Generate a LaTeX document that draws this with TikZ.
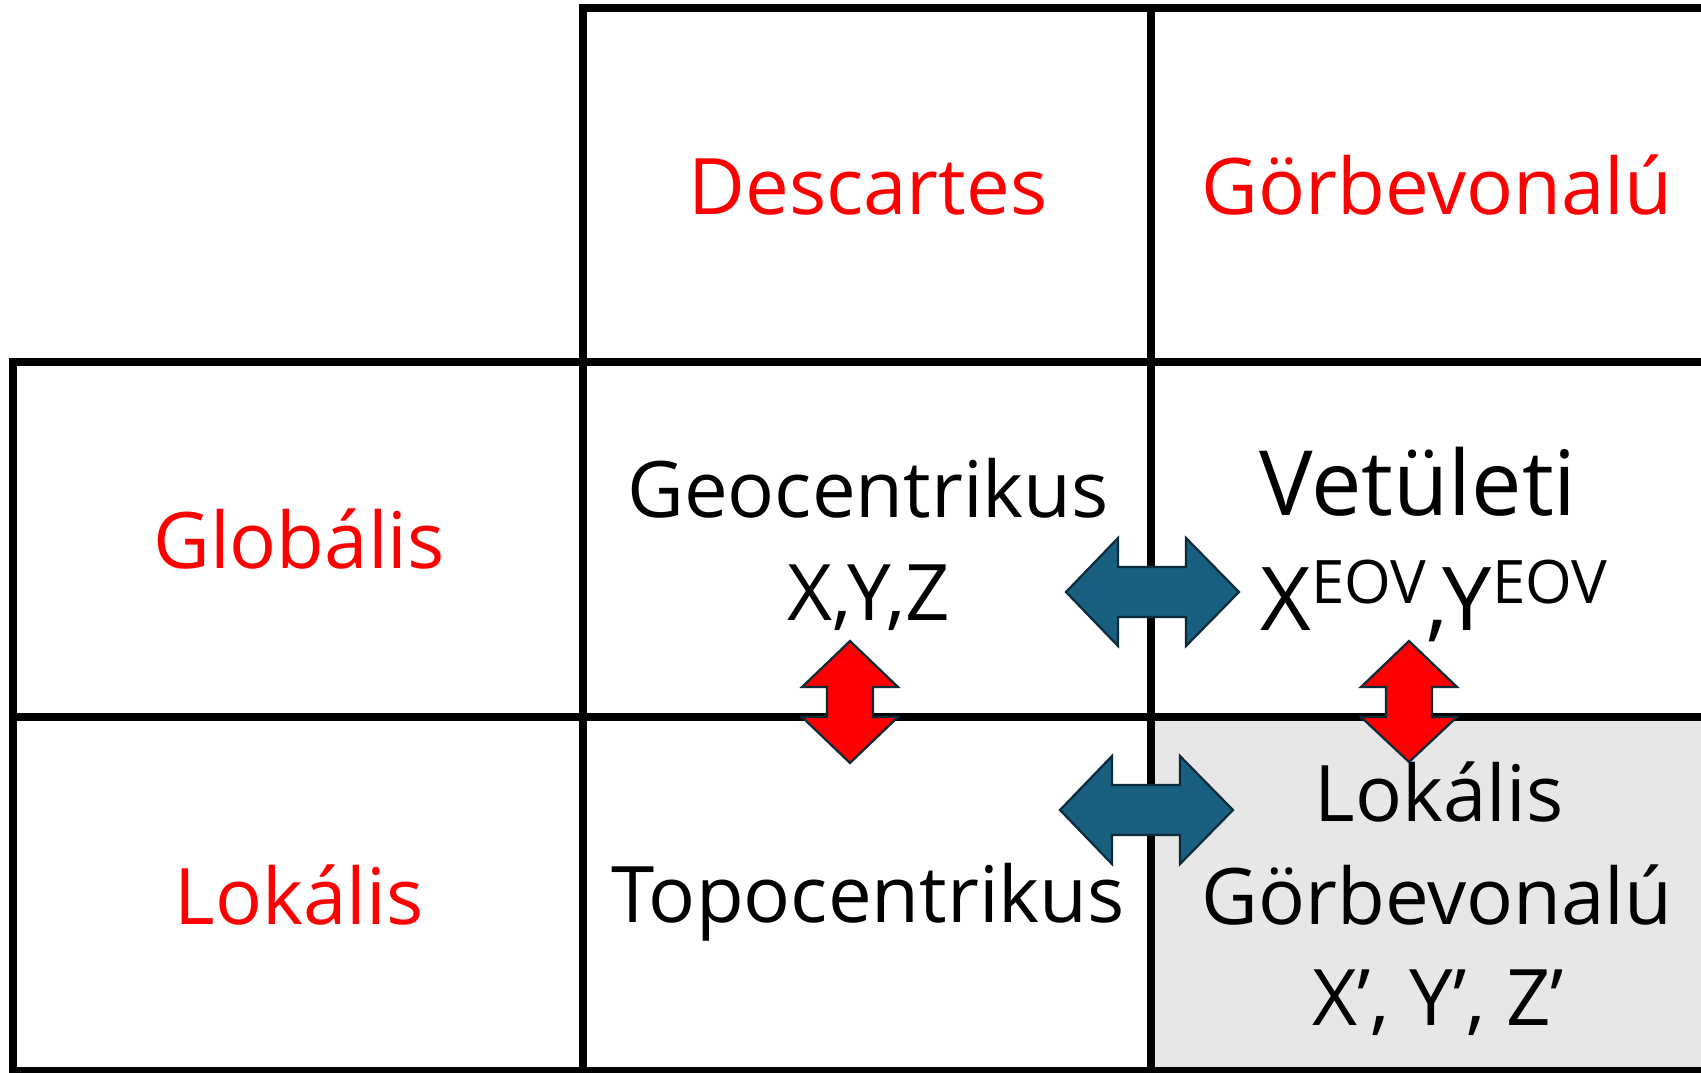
\documentclass[tikz,border=0pt]{standalone}
\usepackage{fontspec}
\setmainfont{Open Sans}
\definecolor{cellgray}{HTML}{E7E7E7}
\definecolor{arrowblue}{HTML}{185F80}
\definecolor{arrowedge}{HTML}{0B2A3A}
\definecolor{hdred}{HTML}{FF0000}
\begin{document}
\begin{tikzpicture}[x=0.5pt,y=-0.5pt,
  grid/.style={line width=4pt,black},
  head/.style={text=hdred,font=\fontsize{39pt}{44pt}\selectfont,anchor=base,inner sep=0pt},
  body/.style={text=black,font=\fontsize{39pt}{44pt}\selectfont,anchor=base,inner sep=0pt},
  big/.style={text=black,font=\fontsize{45pt}{50pt}\selectfont,anchor=base,inner sep=0pt},
  bluearrow/.style={fill=arrowblue,draw=arrowedge,line width=1.1pt,line join=miter},
  redarrow/.style={fill=hdred,draw=arrowedge,line width=1.1pt,line join=miter}]
\useasboundingbox (0,0) rectangle (1701,1072);
% gray cell
\fill[cellgray] (1151,717) rectangle (1710,1080);
% grid
\draw[grid] (583,1080) -- (583,7.5) -- (1710,7.5);
\draw[grid] (13,1080) -- (13,362) -- (1710,362);
\draw[grid] (1151,7.5) -- (1151,1080);
\draw[grid] (13,717) -- (1710,717);
\draw[grid] (13,1070.5) -- (1710,1070.5);
% headers
\node[head] (desc) at (868,214) {Descartes};
\node[head] (gorbh) at (1437,214) {Görbevonalú};
\node[head] (glob) at (299,568) {Globális};
\node[head] (lokh) at (299,924) {Lokális};
% cells
\node[body] (geo) at (868,517) {Geocentrikus};
\node[body] (xyz) at (869,620) {X,Y,Z};
\node[big] (vet) at (1418,515) {Vetületi};
\node[anchor=base west,inner sep=0pt,font=\fontsize{44pt}{48pt}\selectfont] (eov) at (1260,630)
  {X\raisebox{13.5pt}{\fontsize{30pt}{34pt}\selectfont EOV},Y\raisebox{13.5pt}{\fontsize{30pt}{34pt}\selectfont EOV}};
\node[body] (topo) at (868,922) {Topocentrikus};
\node[body] (lokc) at (1439,821) {Lokális};
\node[body] (gorbc) at (1437,924) {Görbevonalú};
\node[body] (xyzv) at (1438,1025) {X’, Y’, Z’};
% blue double arrows
\draw[bluearrow] (1066,592) -- (1118,538) -- (1118,567) -- (1186,567) -- (1186,538) -- (1239,592)
  -- (1186,646) -- (1186,617) -- (1118,617) -- (1118,646) -- cycle;
\draw[bluearrow] (1060,810) -- (1112,756) -- (1112,785) -- (1180,785) -- (1180,756) -- (1233,810)
  -- (1180,864) -- (1180,835) -- (1112,835) -- (1112,864) -- cycle;
% red double arrows
\draw[redarrow] (850,641) -- (898,687) -- (873,687) -- (873,717) -- (898,717) -- (850,763)
  -- (802,717) -- (827,717) -- (827,687) -- (802,687) -- cycle;
\draw[redarrow] (1409,641) -- (1457,687) -- (1432,687) -- (1432,717) -- (1457,717) -- (1409,762)
  -- (1361,717) -- (1386,717) -- (1386,687) -- (1361,687) -- cycle;
\end{tikzpicture}
\end{document}
